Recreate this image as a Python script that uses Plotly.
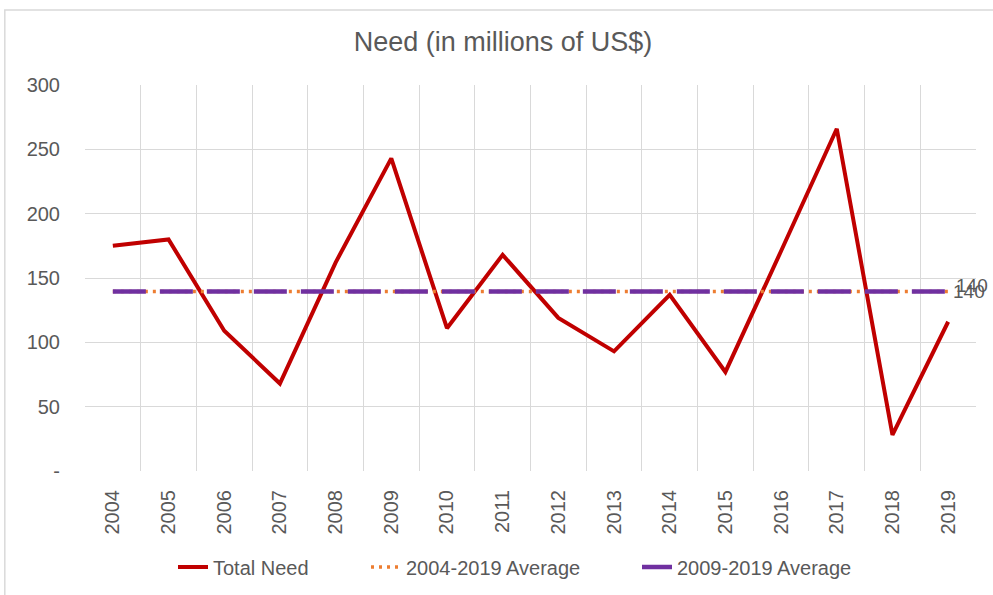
import plotly.graph_objects as go

years = [str(y) for y in range(2004, 2020)]
total_need = [175, 180, 109, 68, 162, 243, 111, 168, 119, 93, 137, 77, 171, 266, 28, 116]
avg_2004_2019 = 139.6
avg_2009_2019 = 139.6
y_tickvals = [0, 50, 100, 150, 200, 250, 300]
y_ticktext = ["-", "50", "100", "150", "200", "250", "300"]

FONT = "Liberation Sans, Arial, sans-serif"
GREY = "#595959"

fig = go.Figure()
fig.add_trace(go.Scatter(
    x=years, y=total_need, mode="lines", name="Total Need", legend="legend",
    line=dict(color="#C00000", width=4)))
fig.add_trace(go.Scatter(
    x=years, y=[avg_2004_2019] * len(years), mode="lines", name="2004-2019 Average",
    legend="legend2", line=dict(color="#ED7D31", width=3.5, dash="3px,5px")))
fig.add_trace(go.Scatter(
    x=years, y=[avg_2009_2019] * len(years), mode="lines", name="2009-2019 Average",
    legend="legend3", line=dict(color="#7030A0", width=4.5, dash="33px,14px")))

last_idx = len(years) - 1
fig.add_annotation(x=last_idx, y=avg_2004_2019, text=f"{avg_2004_2019:.0f}",
                   showarrow=False, xanchor="left", xshift=6, yshift=6,
                   font=dict(family=FONT, size=19, color=GREY))
fig.add_annotation(x=last_idx, y=avg_2009_2019, text=f"{avg_2009_2019:.0f}",
                   showarrow=False, xanchor="left", xshift=3, yshift=0,
                   font=dict(family=FONT, size=19, color=GREY))

# outer chart border
fig.add_shape(type="rect", xref="paper", yref="paper",
              x0=-0.09, x1=1.03, y0=-0.35, y1=1.194,
              line=dict(color="#D9D9D9", width=1.5), fillcolor="rgba(0,0,0,0)", layer="below")

PLOT_L, PLOT_W = 85, 891


def legend_at(px_left):
    return dict(orientation="h", x=(px_left - PLOT_L) / PLOT_W, xanchor="left",
                y=-0.249, yanchor="middle", font=dict(family=FONT, size=20, color=GREY),
                bgcolor="rgba(0,0,0,0)", borderwidth=0)


fig.update_layout(
    width=993, height=595,
    margin=dict(l=85, r=17, t=85, b=124, autoexpand=False),
    paper_bgcolor="white", plot_bgcolor="white",
    font=dict(family=FONT, color=GREY),
    title=dict(text="Need (in millions of US$)", x=503 / 993, xanchor="center",
               y=1 - 42 / 595, yanchor="middle", yref="container",
               font=dict(family=FONT, size=27, color=GREY)),
    showlegend=True,
    legend=legend_at(173),
    legend2=legend_at(366),
    legend3=legend_at(637),
    xaxis=dict(type="category", tickson="boundaries", showgrid=True, gridcolor="#D9D9D9",
               gridwidth=1.2, range=[-0.5, 15.5], tickangle=-90, ticks="",
               ticklabelstandoff=14, tickfont=dict(family=FONT, size=20, color=GREY),
               showline=False, zeroline=False, automargin=False),
    yaxis=dict(range=[0, 300], tickvals=y_tickvals, ticktext=y_ticktext, showgrid=True,
               gridcolor="#D9D9D9", gridwidth=1.2, ticks="", ticklabelstandoff=24,
               tickfont=dict(family=FONT, size=20, color=GREY), zeroline=False, showline=False,
               automargin=False),
)

fig.write_html("out.html")
